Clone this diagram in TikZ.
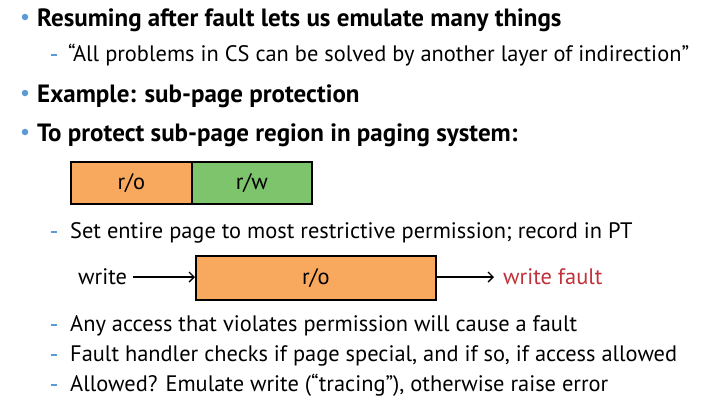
\documentclass[tikz,border=0pt]{standalone}
\usepackage{fontspec}
\setmainfont{PT Sans}
\usetikzlibrary{arrows.meta}
\definecolor{bul}{HTML}{5B9BD5}
\definecolor{orng}{HTML}{F9A95E}
\definecolor{grn}{HTML}{7DC46D}
\definecolor{flt}{HTML}{C0313A}
\tikzset{
  x=1pt,y=-1pt,
  main/.style={anchor=base west,inner sep=0pt,font=\fontsize{25}{28}\selectfont\bfseries},
  sub/.style={anchor=base west,inner sep=0pt,font=\fontsize{22.4}{26}\selectfont},
  dot/.style={circle,fill=bul,inner sep=0pt,minimum size=6.5pt},
  dsh/.style={bul,line width=1.6pt},
  pagebox/.style={draw=black,line width=1.6pt,inner sep=0pt,font=\fontsize{22.4}{26}\selectfont},
  arr/.style={-{Straight Barb[length=5pt,width=10pt]},line width=1.4pt}
}
\begin{document}
\begin{tikzpicture}
\useasboundingbox (0,0) rectangle (707,400);
% bullets
\node[dot] (d1) at (25,17) {};
\node[main] (t1) at (37,26) {Resuming after fault lets us emulate many things};
\draw[dsh] (51,55) -- (57,55);
\node[sub] (t2) at (68,61) {“All problems in CS can be solved by another layer of indirection”};
\node[dot] (d2) at (25,93) {};
\node[main] (t3) at (37,102) {Example: sub-page protection};
\node[dot] (d3) at (25,132) {};
\node[main] (t4) at (37,141) {To protect sub-page region in paging system:};
% first boxes
\node[pagebox,fill=orng,minimum width=121pt,minimum height=42pt,anchor=north west] (ro1) at (70,161) {r/o};
\node[pagebox,fill=grn,minimum width=120pt,minimum height=42pt,anchor=north west] (rw) at (191,161) {r/w};
\draw[dsh] (51,232) -- (57,232);
\node[sub] (t5) at (70,238) {Set entire page to most restrictive permission; record in PT};
% second row
\node[pagebox,fill=orng,minimum width=240pt,minimum height=44pt,anchor=north west] (ro2) at (195,255) {r/o};
\node[sub] (w) at (78,284) {write};
\node[sub,text=flt] (wf) at (503,284) {write fault};
\coordinate (a0) at (133,277);
\coordinate (a1) at (494,277);
\draw[arr] (a0) -- (ro2.west |- a0);
\draw[arr] (ro2.east |- a1) -- (a1);
% lower subs
\draw[dsh] (51,325) -- (57,325);
\node[sub] (t6) at (70,331) {Any access that violates permission will cause a fault};
\draw[dsh] (51,355) -- (57,355);
\node[sub] (t7) at (70,361) {Fault handler checks if page special, and if so, if access allowed};
\draw[dsh] (51,385) -- (57,385);
\node[sub] (t8) at (70,391) {Allowed? Emulate write (“tracing”), otherwise raise error};
\end{tikzpicture}
\end{document}
